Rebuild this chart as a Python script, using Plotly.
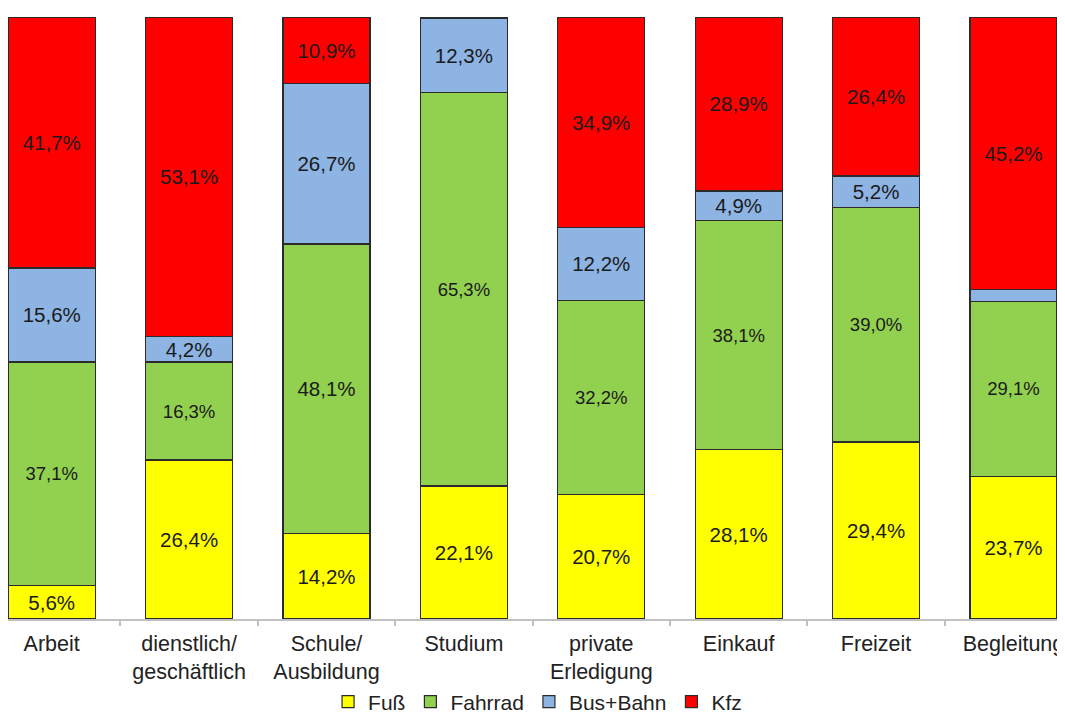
import plotly.graph_objects as go

categories = ["Arbeit", "dienstlich/<br>geschäftlich", "Schule/<br>Ausbildung", "Studium",
              "private<br>Erledigung", "Einkauf", "Freizeit", "Begleitung"]
fuss = [5.6, 26.4, 14.2, 22.1, 20.7, 28.1, 29.4, 23.7]
fahrrad = [37.1, 16.3, 48.1, 65.3, 32.2, 38.1, 39.0, 29.1]
bus_bahn = [15.6, 4.2, 26.7, 12.3, 12.2, 4.9, 5.2, 2.0]
kfz = [41.7, 53.1, 10.9, 0.3, 34.9, 28.9, 26.4, 45.2]

series_names = ["Fuß", "Fahrrad", "Bus+Bahn", "Kfz"]
series_values = [fuss, fahrrad, bus_bahn, kfz]
colors = ["#FFFF00", "#92D050", "#8DB4E2", "#FF0000"]
# labels not shown in the original (segments too thin)
hidden = {("Bus+Bahn", 7), ("Kfz", 3)}
# green labels that appear in smaller type
small = {("Fahrrad", i) for i in [0, 1, 3, 4, 5, 6, 7]}

FONT = "Liberation Sans, Arial, sans-serif"
fig = go.Figure()
for name, vals, col in zip(series_names, series_values, colors):
    texts, sizes = [], []
    for i, v in enumerate(vals):
        texts.append("" if (name, i) in hidden else f"{v:.1f}".replace(".", ",") + "%")
        sizes.append(18.5 if (name, i) in small else 20.5)
    fig.add_trace(go.Bar(
        x=categories, y=vals, name=name,
        marker=dict(color=col, line=dict(color="#2b2b2b", width=1.2)),
        text=texts, textposition="inside", insidetextanchor="middle",
        constraintext="none",
        textfont=dict(size=sizes, color="#1a1a1a", family=FONT),
        hoverinfo="skip",
    ))

# page body has an 8px margin, so the figure is 8px smaller each way
W, H = 1057, 705
fig.update_layout(
    barmode="stack", bargap=0.368,
    width=W, height=H,
    margin=dict(l=0, r=0, t=9, b=H - 9 - 602),
    paper_bgcolor="white", plot_bgcolor="white",
    font=dict(family=FONT, color="#222222", size=21),
    showlegend=True,
    legend=dict(orientation="h", xref="paper", x=0.501, xanchor="center",
                yref="container", y=1 - 694 / H, yanchor="middle",
                font=dict(size=21, color="#222222", family=FONT),
                traceorder="normal", itemwidth=30, bgcolor="rgba(0,0,0,0)"),
    xaxis=dict(type="category", range=[-0.318, 7.375],
               showline=True, linecolor="#c0c0c0", linewidth=1.5,
               ticks="outside", tickson="boundaries", ticklen=5,
               tickcolor="#c0c0c0", tickwidth=1.5, ticklabelstandoff=4,
               showgrid=False, zeroline=False, automargin=False,
               tickfont=dict(size=21.5, color="#222222", family=FONT)),
    yaxis=dict(range=[0, 100], visible=False, showgrid=False, zeroline=False, automargin=False),
)

fig.write_html("out.html")
